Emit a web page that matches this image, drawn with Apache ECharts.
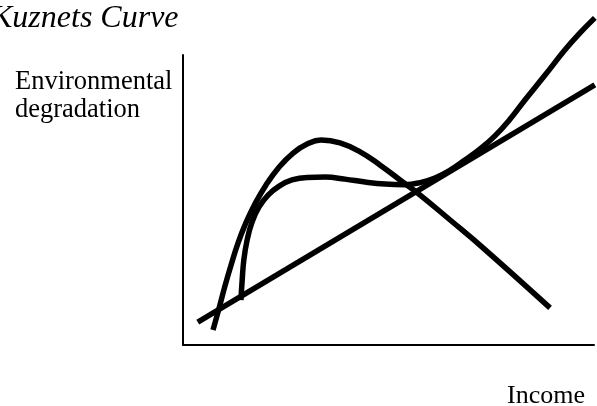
<!DOCTYPE html>
<html>
<head>
<meta charset="utf-8">
<script src="https://cdn.jsdelivr.net/npm/echarts@6/dist/echarts.min.js"></script>
<style>
html, body { margin: 0; padding: 0; background: #fff; }
#main { width: 597px; height: 406px; }
</style>
</head>
<body>
<div id="main"></div>
<script>
var myChart = echarts.init(document.getElementById('main'));

// straight line (income vs degradation)
var lineData = [[3.6, 7.9], [100.2, 89.7]];
// inverted U curve
var ekcData = [
    [7.3, 5.2], [8.8, 12.8], [10.2, 20.3], [11.7, 27.6], [13.4, 35.2], [15.3, 42.1],
    [17.5, 48.6], [20.2, 55.2], [23.4, 61.4], [26.8, 66.2], [30.2, 69.3], [33.6, 70.7],
    [38.2, 69.7], [43.1, 66.6], [47.9, 62.1], [52.8, 56.9], [57.7, 51.7], [65.0, 43.1],
    [73.0, 33.5], [89.3, 12.8]
];
// N shaped curve
var nData = [
    [14.1, 15.5], [14.4, 22.4], [14.8, 29.3], [15.6, 36.2], [16.8, 42.4], [18.5, 47.6],
    [20.7, 51.7], [23.4, 54.8], [26.5, 56.9], [30.2, 57.8], [34.6, 57.9], [39.4, 57.2],
    [44.3, 56.2], [49.2, 55.5], [54.0, 55.3], [57.7, 56.0], [61.3, 57.6], [65.0, 60.3],
    [68.6, 63.8], [72.3, 67.6], [75.9, 72.1], [79.6, 77.9], [83.2, 84.5], [88.1, 93.1],
    [92.9, 101.7], [96.6, 107.6], [100.2, 112.8]
];

var serif = '"Liberation Serif", "DejaVu Serif", serif';

function curve(data) {
    return {
        type: 'line',
        data: data,
        smooth: 0.45,
        symbol: 'none',
        clip: false,
        lineStyle: { color: '#000', width: 5.5, cap: 'butt' }
    };
}

option = {
    animation: false,
    grid: { left: 183, right: 3, top: 55, bottom: 61 },
    xAxis: {
        type: 'value', min: 0, max: 100,
        axisLine: { lineStyle: { color: '#000', width: 2 } },
        axisTick: { show: false }, axisLabel: { show: false }, splitLine: { show: false }
    },
    yAxis: {
        type: 'value', min: 0, max: 100,
        axisLine: { show: true, lineStyle: { color: '#000', width: 2 } },
        axisTick: { show: false }, axisLabel: { show: false }, splitLine: { show: false }
    },
    graphic: [
        { type: 'text', left: -9, top: 3, style: { text: 'Kuznets Curve', font: 'italic 32px ' + serif, fill: '#000' } },
        { type: 'text', left: 15, top: 68, style: { text: 'Environmental\ndegradation', font: '26.5px ' + serif, lineHeight: 28, fill: '#000' } },
        { type: 'text', right: 12, top: 383, style: { text: 'Income', font: '26px ' + serif, fill: '#000' } }
    ],
    series: [curve(lineData), curve(ekcData), curve(nData)]
};
myChart.setOption(option);
</script>
</body>
</html>
